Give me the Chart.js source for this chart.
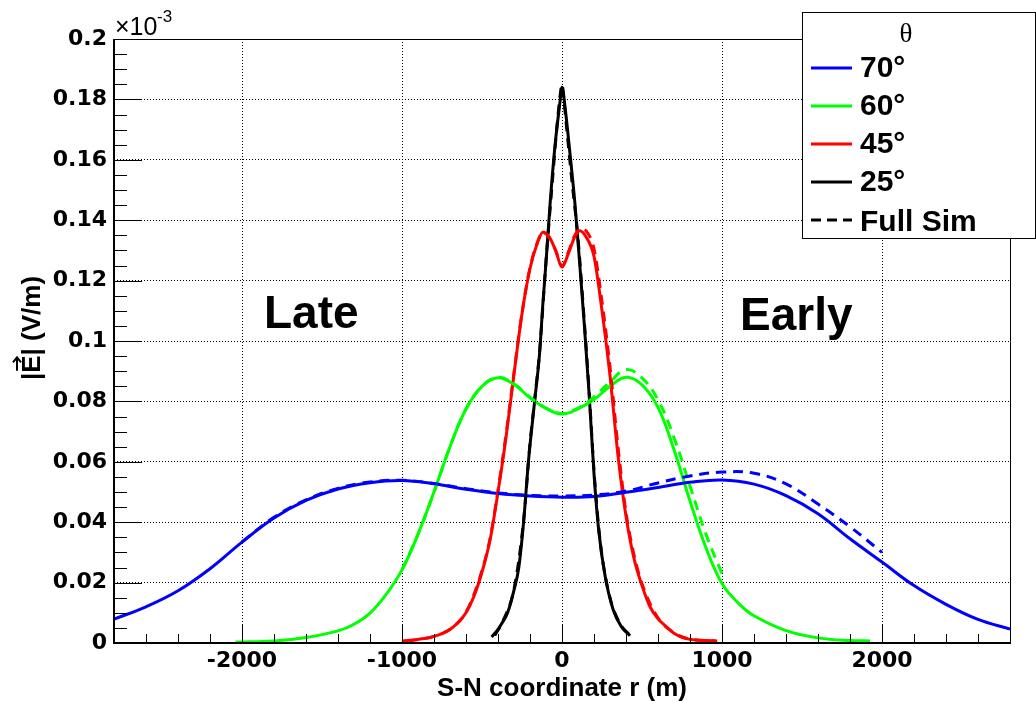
<!DOCTYPE html>
<html>
<head>
<meta charset="utf-8">
<title>|E| vs S-N coordinate</title>
<script src="https://cdn.jsdelivr.net/npm/chart.js@4.4.1/dist/chart.umd.min.js"></script>
<style>
  html, body { margin: 0; padding: 0; background: #fff; }
  canvas { display: block; }
</style>
</head>
<body>
<canvas id="c" width="1036" height="701"></canvas>
<script>
/* |E| profile along the S-N axis, four zenith angles + full simulation */

// 70 deg
const r70 = [-2800,-2600,-2400,-2200,-2000,-1800,-1600,-1400,-1200,-1000,-800,-600,-400,-200,0,200,400,600,800,1000,1200,1400,1600,1800,2000,2200,2400,2600,2800];
const e70 = [0.0079,0.0120,0.0173,0.0246,0.0334,0.0414,0.0472,0.0510,0.0531,0.0538,0.0527,0.0509,0.0495,0.0487,0.0483,0.0485,0.0499,0.0515,0.0532,0.0540,0.0526,0.0488,0.0428,0.0345,0.0268,0.0190,0.0128,0.0078,0.0046];
const r70sim = [-2000,-1800,-1600,-1400,-1200,-1000,-800,-600,-400,-200,0,200,400,600,800,1000,1200,1400,1600,1800,2000];
const e70sim = [0.0335,0.0416,0.0474,0.0512,0.0533,0.0539,0.0528,0.0511,0.0497,0.0489,0.0487,0.0490,0.0503,0.0530,0.0553,0.0566,0.0562,0.0527,0.0460,0.0385,0.0300];

// 60 deg
const r60 = [-2040,-1800,-1600,-1400,-1300,-1200,-1100,-1000,-900,-800,-700,-600,-500,-400,-300,-200,-100,0,100,200,300,400,500,600,700,800,900,1000,1100,1200,1400,1600,1800,1925];
const e60 = [0.0003,0.0007,0.0018,0.0040,0.0062,0.0099,0.0160,0.0242,0.0360,0.0500,0.0650,0.0775,0.0850,0.0878,0.0856,0.0812,0.0777,0.0758,0.0775,0.0806,0.0850,0.0880,0.0855,0.0780,0.0640,0.0470,0.0315,0.0197,0.0133,0.0090,0.0041,0.0017,0.0008,0.0007];
const r60sim = [-1000,-900,-800,-700,-600,-500,-400,-300,-200,-100,0,100,200,300,400,500,600,700,800,900,1000];
const e60sim = [0.0242,0.0360,0.0500,0.0650,0.0775,0.0850,0.0880,0.0858,0.0814,0.0778,0.0760,0.0778,0.0815,0.0865,0.0905,0.0878,0.0805,0.0680,0.0520,0.0360,0.0230];

// 45 deg
const r45 = [-1000,-900,-800,-700,-650,-600,-550,-500,-450,-400,-350,-300,-250,-200,-150,-120,-80,-40,0,40,80,110,150,200,250,300,350,400,450,500,550,600,650,700,750,800,900,970];
const e45 = [0.0007,0.0012,0.0022,0.0045,0.0068,0.0100,0.0155,0.0235,0.0340,0.0500,0.0680,0.0890,0.1090,0.1240,0.1330,0.1360,0.1345,0.1300,0.1245,0.1290,0.1345,0.1365,0.1345,0.1280,0.1100,0.0885,0.0620,0.0420,0.0280,0.0190,0.0120,0.0080,0.0055,0.0032,0.0019,0.0012,0.0008,0.0007];
const r45sim = [-960,-800,-700,-600,-500,-450,-400,-350,-300,-250,-200,-150,-120,-80,-40,0,40,80,120,150,200,250,300,350,400,450,500,600,700,800,960];
const e45sim = [0.0007,0.0022,0.0046,0.0102,0.0240,0.0345,0.0505,0.0690,0.0895,0.1093,0.1243,0.1332,0.1360,0.1343,0.1300,0.1248,0.1295,0.1350,0.1372,0.1365,0.1305,0.1130,0.0915,0.0650,0.0432,0.0292,0.0196,0.0083,0.0034,0.0013,0.0007];

// 25 deg
const r25 = [-440,-400,-370,-340,-300,-270,-240,-210,-170,-140,-120,-100,-75,-45,-15,0,20,50,80,110,140,170,200,230,270,320,370,425];
const e25 = [0.0020,0.0045,0.0070,0.0100,0.0175,0.0250,0.0400,0.0600,0.0805,0.0960,0.1120,0.1260,0.1450,0.1640,0.1780,0.1840,0.1770,0.1620,0.1460,0.1260,0.1050,0.0820,0.0560,0.0370,0.0220,0.0110,0.0055,0.0024];
const r25sim = [-420,-370,-300,-240,-200,-170,-140,-100,-60,-30,-10,0,10,30,60,100,140,170,200,240,300,370,420];
const e25sim = [0.0025,0.0072,0.0178,0.0405,0.0660,0.0810,0.0965,0.1265,0.1530,0.1720,0.1820,0.1850,0.1810,0.1700,0.1540,0.1340,0.1060,0.0830,0.0570,0.0330,0.0150,0.0058,0.0028];

// axes
const xTicks = [-2000, -1000, 0, 1000, 2000];
const xTickLabels = ['-2000', '-1000', '0', '1000', '2000'];
const yTicks = [0, 0.02, 0.04, 0.06, 0.08, 0.1, 0.12, 0.14, 0.16, 0.18, 0.2];
const yTickLabels = ['0', '0.02', '0.04', '0.06', '0.08', '0.1', '0.12', '0.14', '0.16', '0.18', '0.2'];

const legendItems = [
  { label: '70°', color: '#0000ff', dash: [] },
  { label: '60°', color: '#00ff00', dash: [] },
  { label: '45°', color: '#ff0000', dash: [] },
  { label: '25°', color: '#000000', dash: [] },
  { label: 'Full Sim', color: '#000000', dash: [10, 6] },
];

const pts = (xs, ys) => xs.map((x, i) => ({ x, y: ys[i] }));

// smooth: bezier for the broad curves, monotone for the sharp peaks
function line(xs, ys, color, dashed, smooth) {
  const ds = {
    data: pts(xs, ys),
    borderColor: color,
    borderWidth: 3,
    borderDash: dashed ? [10, 7] : [],
    pointRadius: 0,
    fill: false,
  };
  if (smooth) ds.tension = 0.4;
  else ds.cubicInterpolationMode = 'monotone';
  return ds;
}

const DASH = [1, 2];

// inward ticks + frame, ROOT style
const frameTicks = {
  id: 'frameTicks',
  afterDatasetsDraw(chart) {
    const { ctx, chartArea: a, scales: { x, y } } = chart;
    ctx.save();
    ctx.strokeStyle = '#000';
    ctx.lineWidth = 1;
    ctx.beginPath();
    for (let v = -2600; v < 2800; v += 200) {
      const px = Math.round(x.getPixelForValue(v)) + 0.5;
      const len = v % 1000 === 0 ? 18 : 9;
      ctx.moveTo(px, a.bottom); ctx.lineTo(px, a.bottom - len);
    }
    for (let i = 1; i < 40; i++) {
      const py = Math.round(y.getPixelForValue(i * 0.005)) + 0.5;
      const len = i % 4 === 0 ? 28 : 13;
      ctx.moveTo(a.left, py); ctx.lineTo(a.left + len, py);
    }
    ctx.stroke();

    // top / right thin, left / bottom thick
    ctx.beginPath();
    ctx.moveTo(a.left, a.top + 0.5); ctx.lineTo(a.right + 0.5, a.top + 0.5);
    ctx.lineTo(a.right + 0.5, a.bottom);
    ctx.stroke();
    ctx.lineWidth = 2;
    ctx.beginPath();
    ctx.moveTo(a.left, a.top); ctx.lineTo(a.left, a.bottom); ctx.lineTo(a.right + 1, a.bottom);
    ctx.stroke();
    ctx.restore();
  },
};

// texts + legend box
const annotations = {
  id: 'annotations',
  afterDraw(chart) {
    const { ctx, chartArea: a } = chart;
    ctx.save();
    ctx.fillStyle = '#000';

    // x10^-3
    ctx.textAlign = 'left';
    ctx.textBaseline = 'alphabetic';
    ctx.font = '25px "Liberation Sans"';
    ctx.fillText('×10', 115, 35);
    ctx.font = '17px "Liberation Sans"';
    ctx.fillText('-3', 157, 22);

    // Late / Early
    ctx.font = 'bold 46px "Liberation Sans"';
    ctx.fillText('Late', 264, 328);
    ctx.fillText('Early', 740, 330);

    // axis titles
    ctx.font = 'bold 26px "Liberation Sans"';
    ctx.textAlign = 'center';
    ctx.fillText('S-N coordinate r (m)', (a.left + a.right) / 2, 696);

    // y title, rotated, with the vector arrow over E
    const yt = '|E| (V/m)';
    ctx.save();
    ctx.translate(40, 328);
    ctx.rotate(-Math.PI / 2);
    ctx.fillText(yt, 0, 0);
    const x0 = -ctx.measureText(yt).width / 2 + ctx.measureText('|').width;
    const wE = ctx.measureText('E').width;
    const ya = -23;
    ctx.strokeStyle = '#000';
    ctx.lineWidth = 2;
    ctx.beginPath();
    ctx.moveTo(x0 + 2, ya); ctx.lineTo(x0 + wE - 2, ya);
    ctx.moveTo(x0 + wE - 7, ya - 4); ctx.lineTo(x0 + wE - 2, ya); ctx.lineTo(x0 + wE - 7, ya + 4);
    ctx.stroke();
    ctx.restore();

    // legend
    const L = 802, T = 12, W = 233, H = 226;
    ctx.fillStyle = '#fff';
    ctx.fillRect(L, T, W, H);
    ctx.strokeStyle = '#000';
    ctx.lineWidth = 1;
    ctx.strokeRect(L + 0.5, T + 0.5, W, H);
    ctx.fillStyle = '#000';
    ctx.font = '27px "Liberation Serif"';
    ctx.textAlign = 'center';
    ctx.fillText('θ', 906, 42);
    ctx.textAlign = 'left';
    ctx.font = 'bold 30px "Liberation Sans"';
    legendItems.forEach((it, i) => {
      const yy = 68 + i * 38;
      ctx.strokeStyle = it.color;
      ctx.lineWidth = 3;
      ctx.setLineDash(it.dash);
      ctx.beginPath();
      ctx.moveTo(811, yy); ctx.lineTo(852, yy);
      ctx.stroke();
      ctx.setLineDash([]);
      ctx.fillText(it.label, 860, yy + 9 + (i === 4 ? 2 : 0));
    });
    ctx.restore();
  },
};

new Chart(document.getElementById('c'), {
  type: 'line',
  data: {
    datasets: [
      line(r70sim, e70sim, '#0000ff', true, true),
      line(r60sim, e60sim, '#00ff00', true, true),
      line(r45sim, e45sim, '#ff0000', true, false),
      line(r25sim, e25sim, '#000000', true, false),
      line(r70, e70, '#0000ff', false, true),
      line(r60, e60, '#00ff00', false, true),
      line(r45, e45, '#ff0000', false, false),
      line(r25, e25, '#000000', false, false),
    ],
  },
  options: {
    responsive: false,
    animation: false,
    layout: { padding: { top: 39, right: 26, left: 0, bottom: 0 } },
    plugins: { legend: { display: false }, tooltip: { enabled: false } },
    scales: {
      x: {
        type: 'linear',
        min: -2800, max: 2800,
        afterBuildTicks: s => { s.ticks = xTicks.map(v => ({ value: v })); },
        afterFit: s => { s.height = 58; },
        grid: { color: '#000', lineWidth: 1, drawTicks: false },
        border: { display: false, dash: DASH },
        ticks: {
          autoSkip: false, maxRotation: 0, padding: 5, color: '#000',
          font: { family: 'DejaVu Sans', weight: 'bold', size: 22 },
          callback: (v, i) => xTickLabels[i],
        },
      },
      y: {
        type: 'linear',
        min: 0, max: 0.2,
        afterBuildTicks: s => { s.ticks = yTicks.map(v => ({ value: v })); },
        afterFit: s => { s.width = 114; },
        grid: {
          lineWidth: 1, drawTicks: false,
          color: c => (c.index === 0 || c.index === yTicks.length - 1) ? 'rgba(0,0,0,0)' : '#000',
        },
        border: { display: false, dash: DASH },
        ticks: {
          autoSkip: false, padding: 7, color: '#000',
          font: { family: 'DejaVu Sans', weight: 'bold', size: 22 },
          callback: (v, i) => yTickLabels[i],
        },
      },
    },
  },
  plugins: [frameTicks, annotations],
});
</script>
</body>
</html>
